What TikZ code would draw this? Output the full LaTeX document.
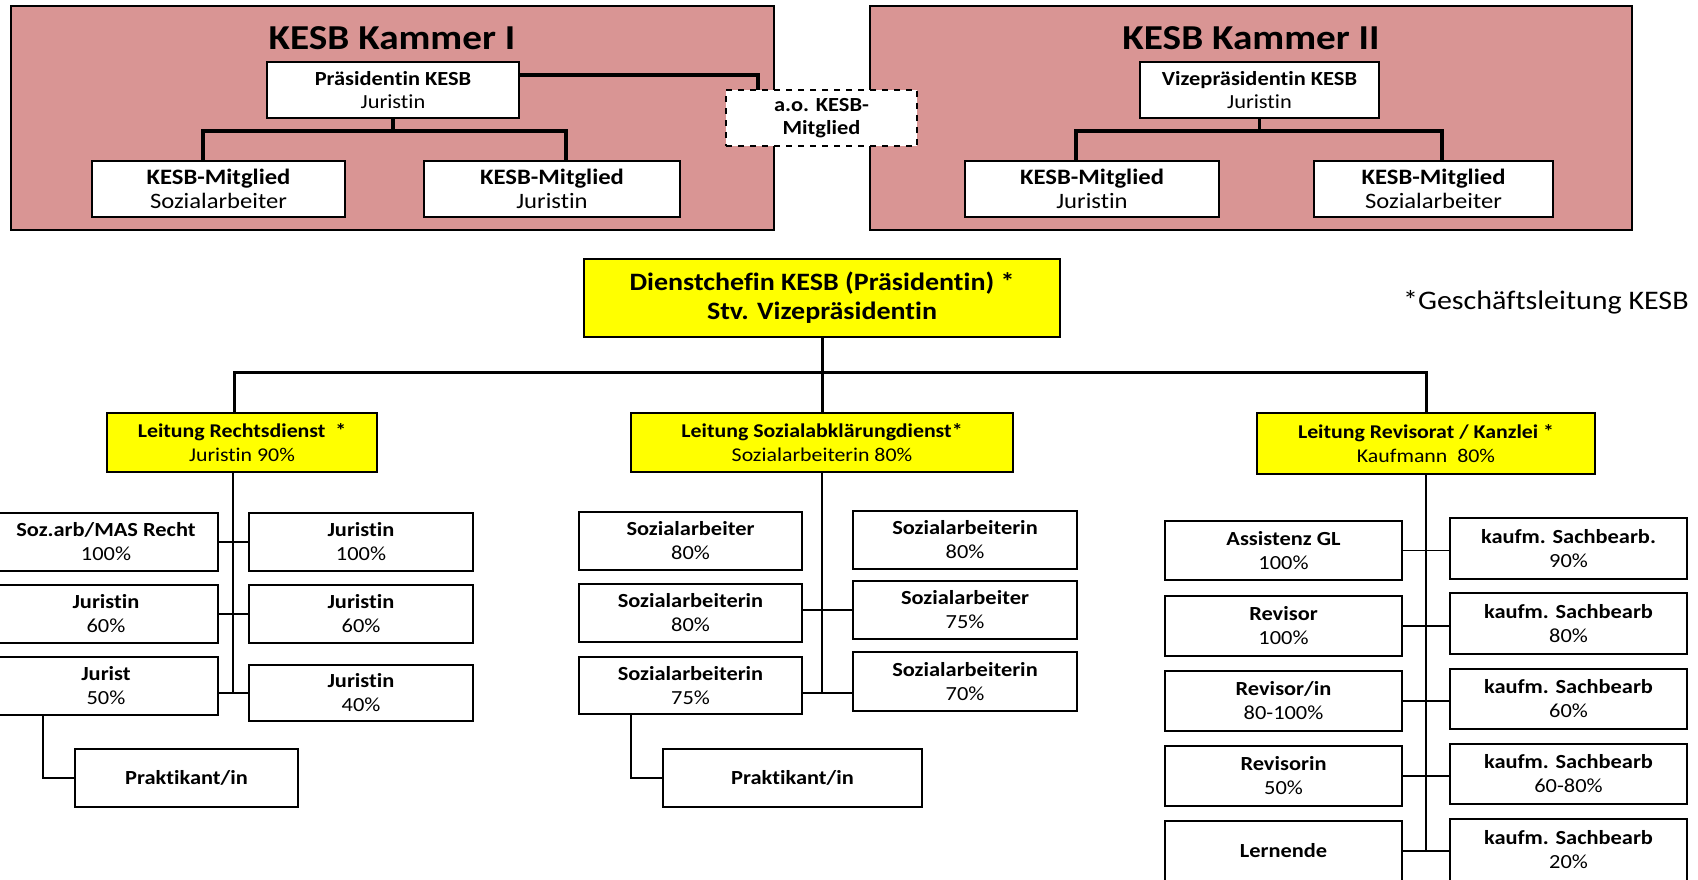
\documentclass[tikz,border=0pt]{standalone}
\usepackage{fontspec}
\setmainfont{Carlito}[FakeStretch=1.12,Ligatures=NoCommon]
\definecolor{kam}{HTML}{D99594}
\definecolor{gelb}{HTML}{FFFF00}
\newcommand\bx[7]{\node[#6,minimum width={((#4)-(#2))*0.5pt},minimum height={((#5)-(#3))*0.5pt}] (#1) at ({((#2)+(#4))/2},{((#3)+(#5))/2}) {#7};}
\begin{document}
\begin{tikzpicture}[x=0.5pt,y=-0.5pt,
  kambox/.style={draw=black,fill=kam,line width=1.2pt,inner sep=0pt,outer sep=0pt},
  obox/.style={draw=black,fill=white,line width=1pt,inner sep=0pt,outer sep=0pt,align=center,font=\fontsize{10}{12}\selectfont},
  kmem/.style={obox,font=\fontsize{11}{12}\selectfont},
  kpres/.style={obox,font=\fontsize{10}{11.5}\selectfont},
  aobox/.style={obox,dashed,font=\fontsize{10}{11.5}\selectfont},
  ybox/.style={obox,fill=gelb,font=\fontsize{9.75}{12}\selectfont},
  dcbox/.style={obox,fill=gelb,font=\bfseries\fontsize{12.5}{14.5}\selectfont},
  kconn/.style={draw=black,line width=1.7pt},
  mconn/.style={draw=black,line width=1.5pt},
  trunk/.style={draw=black,line width=1pt},
  thinc/.style={draw=black,line width=0.75pt},
  title/.style={anchor=base,inner sep=0pt,font=\bfseries\fontsize{17.5}{20}\selectfont}
]
\useasboundingbox (0,0) rectangle (1698,879);
\fill[white] (0,0) rectangle (1698,879);

% chambers
\bx{kam1}{11}{6}{774}{230}{kambox}{}
\bx{kam2}{870}{6}{1632}{230}{kambox}{}
\node[title] (t1) at (392,49) {KESB Kammer I};
\node[title] (t2) at (1251,49) {KESB Kammer II};

\bx{pras}{267}{62}{519}{118}{kpres}{\textbf{Präsidentin KESB}\\Juristin}
\bx{k1a}{92}{161}{345}{217}{kmem}{\textbf{KESB-Mitglied}\\Sozialarbeiter}
\bx{k1b}{424}{161}{680}{217}{kmem}{\textbf{KESB-Mitglied}\\Juristin}
\bx{vize}{1140}{62}{1379}{118}{kpres}{\textbf{Vizepräsidentin KESB}\\Juristin}
\bx{k2a}{965}{161}{1219}{217}{kmem}{\textbf{KESB-Mitglied}\\Juristin}
\bx{k2b}{1314}{161}{1553}{217}{kmem}{\textbf{KESB-Mitglied}\\Sozialarbeiter}

\draw[kconn] (pras.south) -- (pras.south |- 0,131) coordinate (k1m);
\draw[kconn] (k1a.north -| 203,0) |- (k1m) -| (k1b.north -| 566,0);
\draw[kconn] (vize.south) -- (vize.south |- 0,131) coordinate (k2m);
\draw[kconn] (k2a.north -| 1076,0) |- (k2m) -| (k2b.north -| 1442,0);

\bx{ao}{726}{90}{917}{146}{aobox}{\textbf{a.o. KESB-}\\\textbf{Mitglied}}
\draw[kconn] (pras.east |- 0,75) -| (ao.north -| 758,0);

\node[anchor=base east,inner sep=0pt,font=\fontsize{13.4}{16}\selectfont] (gl) at (1689,309) {*Geschäftsleitung KESB};

% main chart
\bx{dc}{584}{259}{1060}{337}{dcbox}{Dienstchefin KESB (Präsidentin) *\\Stv. Vizepräsidentin}
\bx{lr}{107}{413}{377}{472}{ybox}{\textbf{Leitung Rechtsdienst \ *}\\Juristin 90\%}
\bx{ls}{631}{413}{1013}{472}{ybox}{\textbf{Leitung Sozialabklärungdienst*}\\Sozialarbeiterin 80\%}
\bx{lk}{1257}{413}{1595}{474}{ybox}{\textbf{Leitung Revisorat / Kanzlei *}\\Kaufmann \ 80\%}

\draw[mconn] (dc.south) -- (ls.north);
\draw[mconn] (lr.north -| 234,0) |- (dc.south |- 0,372) -| (lk.north);

% Rechtsdienst
\bx{a1}{-6}{513}{218}{571}{obox}{\textbf{Soz.arb/MAS Recht}\\100\%}
\bx{a2}{-6}{585}{218}{643}{obox}{\textbf{Juristin}\\60\%}
\bx{a3}{-6}{657}{218}{715}{obox}{\textbf{Jurist}\\50\%}
\bx{b1}{249}{513}{473}{571}{obox}{\textbf{Juristin}\\100\%}
\bx{b2}{249}{585}{473}{643}{obox}{\textbf{Juristin}\\60\%}
\bx{b3}{249}{665}{473}{721}{obox}{\textbf{Juristin}\\40\%}
\bx{p1}{75}{749}{298}{807}{obox}{\textbf{Praktikant/in}}
\coordinate (lend) at (233,693);
\draw[trunk] (lr.south -| lend) -- (lend);
\draw[thinc] (a1.east) -- (b1.west);
\draw[thinc] (a2.east) -- (b2.west);
\draw[thinc] (a3.east |- b3.west) -- (b3.west);
\draw[thinc] (a3.south -| 43,0) |- (p1.west);

% Sozialabklaerungsdienst
\bx{c1}{579}{512}{802}{570}{obox}{\textbf{Sozialarbeiter}\\80\%}
\bx{c2}{579}{584}{802}{642}{obox}{\textbf{Sozialarbeiterin}\\80\%}
\bx{c3}{579}{657}{802}{714}{obox}{\textbf{Sozialarbeiterin}\\75\%}
\bx{d1}{853}{511}{1077}{569}{obox}{\textbf{Sozialarbeiterin}\\80\%}
\bx{d2}{853}{581}{1077}{639}{obox}{\textbf{Sozialarbeiter}\\75\%}
\bx{d3}{853}{652}{1077}{711}{obox}{\textbf{Sozialarbeiterin}\\70\%}
\bx{p2}{663}{749}{922}{807}{obox}{\textbf{Praktikant/in}}
\coordinate (mend) at (822,693);
\draw[trunk] (ls.south) -- (mend);
\draw[thinc] (c2.east |- d2.west) -- (d2.west);
\draw[thinc] (c3.east |- mend) -- (d3.west |- mend);
\draw[thinc] (c3.south -| 631,0) |- (p2.west);

% Revisorat / Kanzlei
\bx{e1}{1165}{521}{1402}{580}{obox}{\textbf{Assistenz GL}\\100\%}
\bx{e2}{1165}{596}{1402}{656}{obox}{\textbf{Revisor}\\100\%}
\bx{e3}{1165}{671}{1402}{731}{obox}{\textbf{Revisor/in}\\80-100\%}
\bx{e4}{1165}{746}{1402}{806}{obox}{\textbf{Revisorin}\\50\%}
\bx{e5}{1165}{821}{1402}{881}{obox}{\textbf{Lernende}}
\bx{f1}{1450}{518}{1687}{579}{obox}{\textbf{kaufm. Sachbearb.}\\90\%}
\bx{f2}{1450}{593}{1687}{654}{obox}{\textbf{kaufm. Sachbearb}\\80\%}
\bx{f3}{1450}{669}{1687}{729}{obox}{\textbf{kaufm. Sachbearb}\\60\%}
\bx{f4}{1450}{744}{1687}{804}{obox}{\textbf{kaufm. Sachbearb}\\60-80\%}
\bx{f5}{1450}{819}{1687}{881}{obox}{\textbf{kaufm. Sachbearb}\\20\%}
\coordinate (rend) at (1426,851);
\draw[trunk] (lk.south) -- (rend);
\draw[thinc] (e1.east) -- (e1.east -| f1.west);
\draw[thinc] (e2.east) -- (e2.east -| f2.west);
\draw[thinc] (e3.east) -- (e3.east -| f3.west);
\draw[thinc] (e4.east) -- (e4.east -| f4.west);
\draw[thinc] (e5.east) -- (e5.east -| f5.west);
\end{tikzpicture}
\end{document}
